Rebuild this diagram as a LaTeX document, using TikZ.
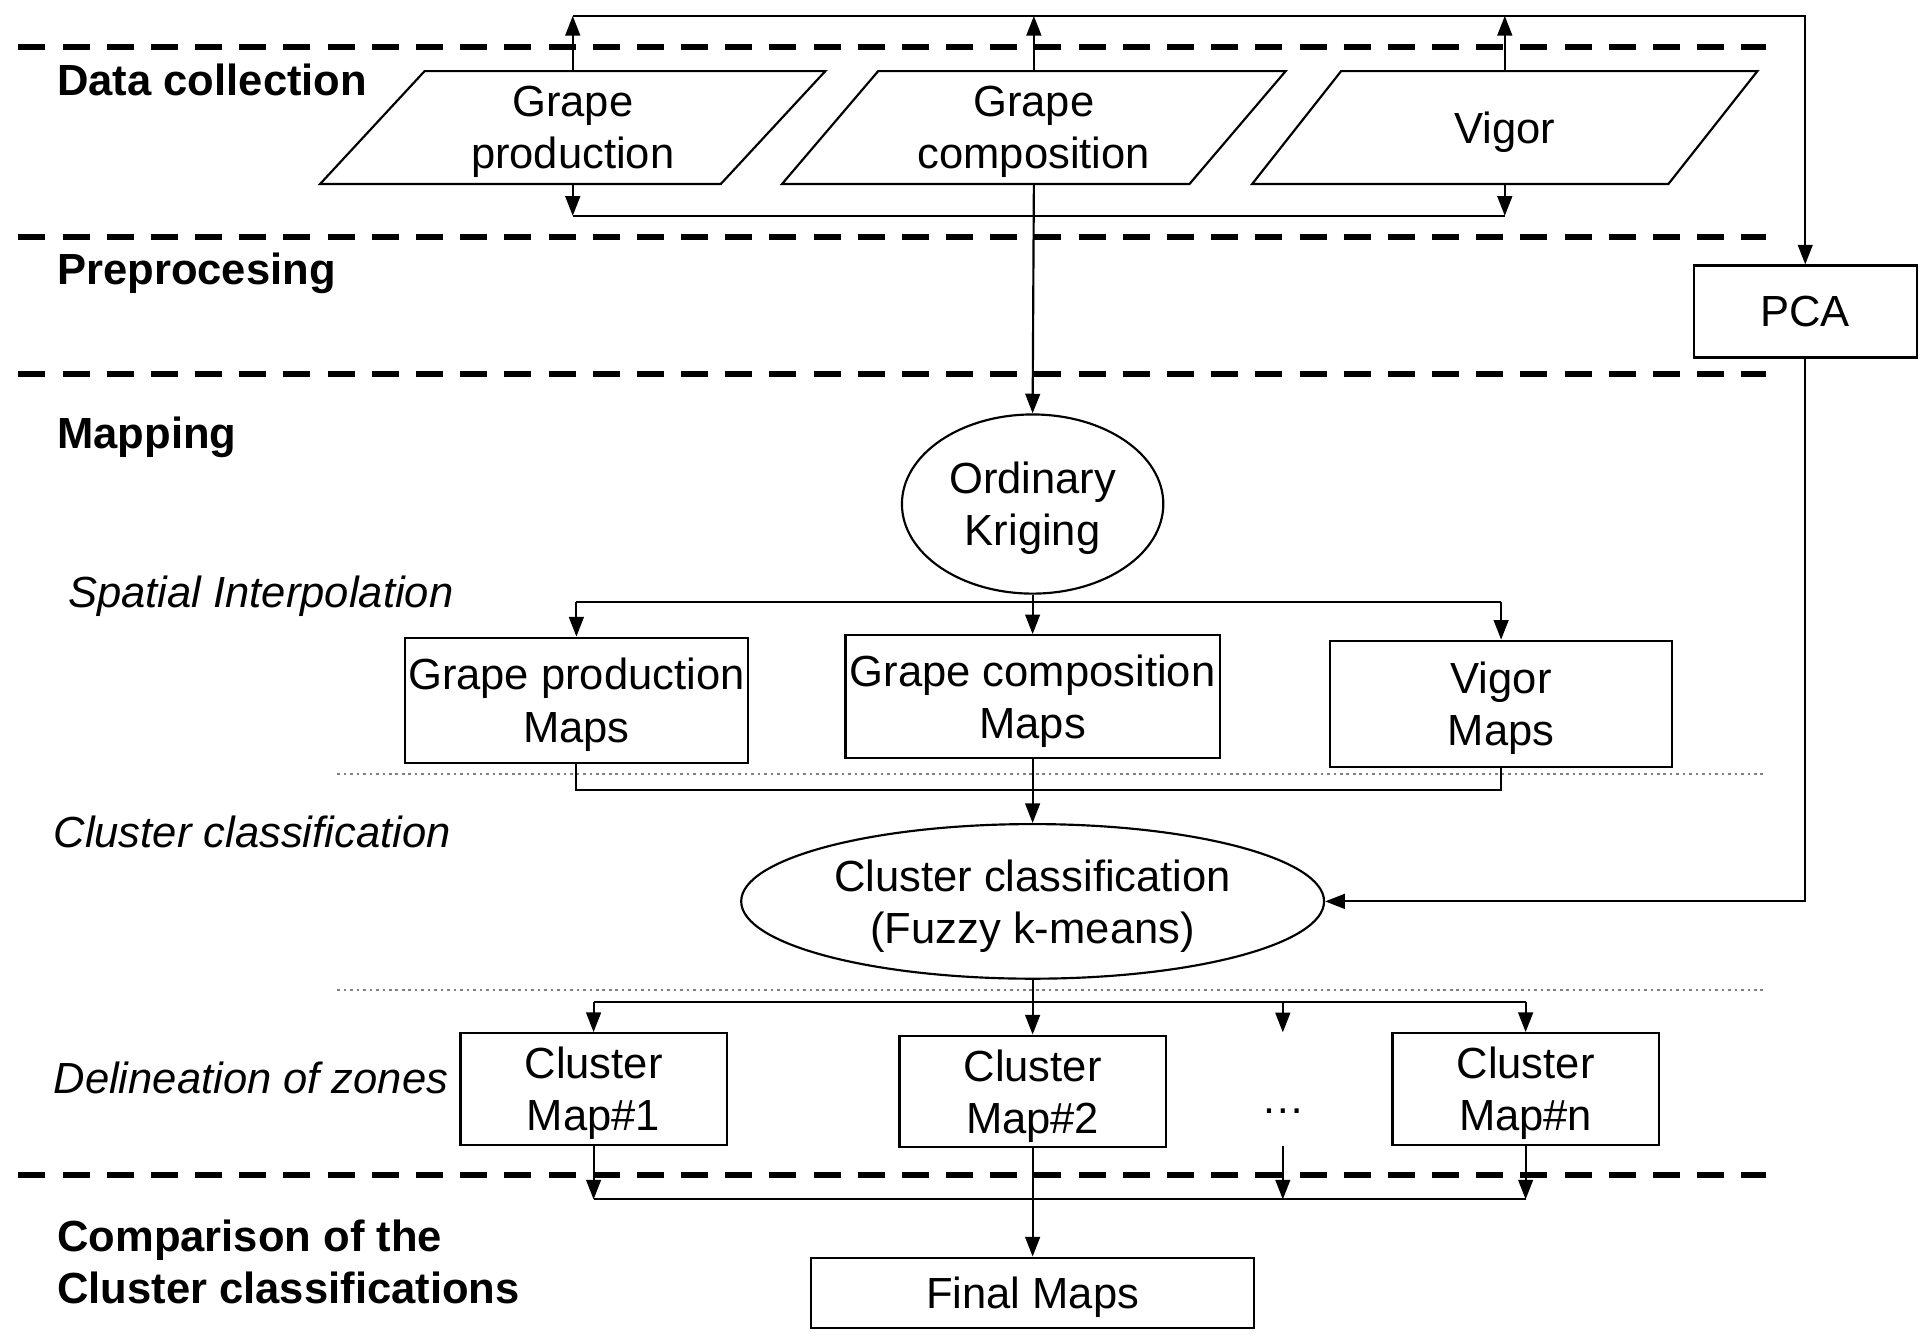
\documentclass[tikz,border=0pt]{standalone}
\usepackage{fontspec}
\setmainfont{Liberation Sans}
\usetikzlibrary{arrows.meta,shapes.geometric,calc}
\newcommand{\zonefont}{\fontsize{10.1pt}{12.1pt}\selectfont}

\begin{document}
\begin{tikzpicture}[
  x=0.01cm, y=-0.01cm,
  datav/.style={trapezium, trapezium left angle=49, trapezium right angle=131, trapezium stretches=true, draw, line width=0.5pt, minimum width=4.13cm, minimum height=0.92cm, inner sep=0pt, text depth=0pt, align=center, font=\zonefont},
  mapv/.style={rectangle, draw, line width=0.5pt, inner sep=0pt, text depth=0pt, align=center, font=\zonefont},
  procv/.style={ellipse, draw, line width=0.5pt, inner sep=0pt, text depth=0pt, align=center, font=\zonefont},
  stagelbl/.style={anchor=west, inner sep=0pt, align=left, font={\zonefont\bfseries}},
  sublbl/.style={anchor=west, inner sep=0pt, font={\zonefont\itshape}},
  phase/.style={line width=1.4pt, dash pattern=on 0.22cm off 0.14cm},
  subphase/.style={line width=0.5pt, gray, dash pattern=on 0.6pt off 0.9pt},
  flow/.style={line width=0.5pt, -{Triangle[length=1.6mm,width=1.2mm]}},
  bus/.style={line width=0.5pt}
]
\useasboundingbox (0,0) rectangle (1568,1092);

\foreach \y in {38,193,305,958} \draw[phase] (15,\y) -- (1440,\y);
\foreach \y in {631,807} \draw[subphase] (275,\y) -- (1440,\y);

\node[stagelbl] (lcollect) at (46,65) {Data collection};
\node[stagelbl] (lprep) at (46,223) {Preprocesing};
\node[stagelbl] (lmap) at (46,357) {Mapping};
\node[sublbl] (linterp) at (55,486) {Spatial Interpolation};
\node[sublbl] (lclass) at (43,678) {Cluster classification};
\node[sublbl] (lzones) at (43,879) {Delineation of zones};
\node[stagelbl] (lcomp) at (46,1029) {Comparison of the\\Cluster classifications};

\node[datav] (gprod) at (467,104) {Grape\\production};
\node[datav] (gcomp) at (843,104) {Grape\\composition};
\node[datav] (vig) at (1227,104) {Vigor};
\node[mapv, minimum width=1.82cm, minimum height=0.75cm] (pca) at (1472,254) {PCA};
\node[procv, minimum width=2.13cm, minimum height=1.46cm] (krig) at (842,411) {Ordinary\\Kriging};
\node[mapv, minimum width=2.79cm, minimum height=1.02cm] (gpmap) at (470,571) {Grape production\\Maps};
\node[mapv, minimum width=3.05cm, minimum height=1.00cm] (gcmap) at (842,568) {Grape composition\\Maps};
\node[mapv, minimum width=2.79cm, minimum height=1.03cm] (vmap) at (1224,574) {Vigor\\Maps};
\node[procv, minimum width=4.75cm, minimum height=1.26cm] (fuzzy) at (842,735) {Cluster classification\\(Fuzzy k-means)};
\node[mapv, minimum width=2.17cm, minimum height=0.91cm] (cmap1) at (484,888) {Cluster\\Map\#1};
\node[mapv, minimum width=2.17cm, minimum height=0.91cm] (cmap2) at (842,890) {Cluster\\Map\#2};
\node[inner sep=0pt, minimum height=0.91cm, text height=0.4cm, text depth=0pt, font=\zonefont] (cdots) at (1046,888) {\dots};
\node[mapv, minimum width=2.17cm, minimum height=0.91cm] (cmapn) at (1244,888) {Cluster\\Map\#n};
\node[mapv, minimum width=3.61cm, minimum height=0.57cm] (final) at (842,1054) {Final Maps};

\coordinate (topbus) at (0,13);
\coordinate (inbus) at (0,176);
\coordinate (krigbus) at (0,491);
\coordinate (mapbus) at (0,644);
\coordinate (fuzbus) at (0,817);
\coordinate (cmpbus) at (0,978);

\foreach \n in {gprod,gcomp,vig} \draw[flow] (\n.north) -- (\n.north |- topbus);
\draw[flow] (gprod.north |- topbus) -| (pca.north);
\foreach \n in {gprod,vig} \draw[flow] (\n.south) -- (\n.south |- inbus);
\draw[bus] (gprod.south |- inbus) -- (vig.south |- inbus);
\draw[flow] (gcomp.south) -- (krig.north);

\draw[flow] (krig.south) -- (gcmap.north);
\draw[bus] (gpmap.north |- krigbus) -- (vmap.north |- krigbus);
\foreach \n in {gpmap,vmap} \draw[flow] (\n.north |- krigbus) -- (\n.north);
\draw[bus] (gpmap.south) -- (gpmap.south |- mapbus) -- (vmap.south |- mapbus) -- (vmap.south);
\draw[flow] (gcmap.south) -- (fuzzy.north);
\draw[flow] (pca.south) |- (fuzzy.east);

\draw[flow] (fuzzy.south) -- (cmap2.north);
\draw[bus] (cmap1.north |- fuzbus) -- (cmapn.north |- fuzbus);
\foreach \n in {cmap1,cdots,cmapn} \draw[flow] (\n.north |- fuzbus) -- (\n.north);
\foreach \n in {cmap1,cdots,cmapn} \draw[flow] (\n.south) -- (\n.south |- cmpbus);
\draw[bus] (cmap1.south |- cmpbus) -- (cmapn.south |- cmpbus);
\draw[flow] (cmap2.south) -- (final.north);
\end{tikzpicture}
\end{document}
